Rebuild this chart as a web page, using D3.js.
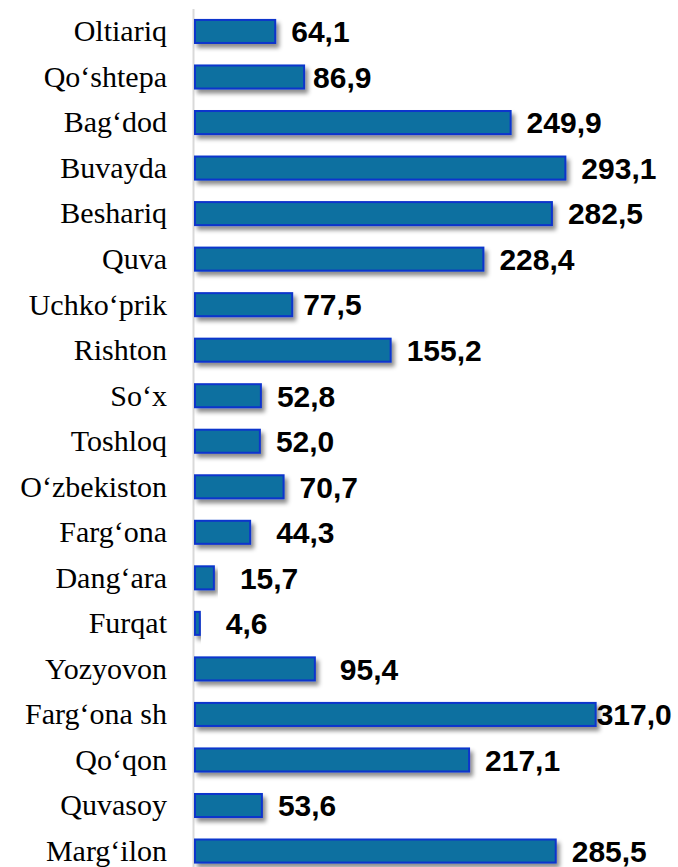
<!DOCTYPE html>
<html>
<head>
<meta charset="utf-8">
<script src="https://cdn.jsdelivr.net/npm/d3@7"></script>
<style>
  body { margin: 0; background: #fff; }
</style>
</head>
<body>
<div id="chart"></div>
<script>
// Data (top to bottom)
const districts = ['Oltiariq', 'Qo‘shtepa', 'Bag‘dod', 'Buvayda', 'Beshariq', 'Quva', 'Uchko‘prik',
  'Rishton', 'So‘x', 'Toshloq', 'O‘zbekiston', 'Farg‘ona', 'Dang‘ara', 'Furqat', 'Yozyovon',
  'Farg‘ona sh', 'Qo‘qon', 'Quvasoy', 'Marg‘ilon'];
const values = [64.1, 86.9, 249.9, 293.1, 282.5, 228.4, 77.5, 155.2, 52.8, 52.0, 70.7, 44.3,
  15.7, 4.6, 95.4, 317.0, 217.1, 53.6, 285.5];

const width = 678;
const height = 867;

const svg = d3.select('#chart')
  .append('svg')
  .attr('width', width)
  .attr('height', height);

// drop shadow under the bars
const defs = svg.append('defs');
defs.append('filter')
  .attr('id', 'shadow')
  .attr('x', '-10%').attr('y', '-50%')
  .attr('width', '130%').attr('height', '220%')
  .append('feDropShadow')
  .attr('dx', 3).attr('dy', 4)
  .attr('stdDeviation', 2)
  .attr('flood-color', '#000')
  .attr('flood-opacity', 0.45);

const rows = districts.map((d, i) => ({ name: d, value: values[i] }));

const x = d3.scaleLinear().domain([0, 320]).range([195, 195 + 320 * 1.267]);
const y = d3.scaleBand().domain(districts).range([8.7, 873.8])
  .paddingInner(0.45).paddingOuter(0.225);

// vertical axis line
svg.append('line')
  .attr('x1', 193.5).attr('x2', 193.5)
  .attr('y1', 9).attr('y2', height)
  .attr('stroke', '#d9d9d9')
  .attr('stroke-width', 2);

// bars
svg.selectAll('.bar')
  .data(rows)
  .enter()
  .append('rect')
  .attr('class', 'bar')
  .attr('x', x(0))
  .attr('y', d => y(d.name) + 1)
  .attr('width', d => x(d.value) - x(0) - 1)
  .attr('height', y.bandwidth() - 2)
  .attr('fill', '#0b6fa0')
  .attr('stroke', '#0a35cc')
  .attr('stroke-width', 2)
  .attr('filter', 'url(#shadow)');

// category labels
svg.selectAll('.cat')
  .data(rows)
  .enter()
  .append('text')
  .attr('class', 'cat')
  .attr('x', 167)
  .attr('y', d => y(d.name) + y.bandwidth() / 2)
  .attr('dy', '0.33em')
  .attr('text-anchor', 'end')
  .attr('font-family', 'Liberation Serif, DejaVu Serif, serif')
  .attr('font-size', 30)
  .attr('fill', '#000')
  .text(d => d.name);

// value labels (a few were moved by hand in the original)
const labelNudge = { 'Qo‘shtepa': -7, 'Uchko‘prik': -5, 'Farg‘ona': 10, 'Dang‘ara': 10,
  'Furqat': 10, 'Yozyovon': 9, 'Farg‘ona sh': -15 };

svg.selectAll('.val')
  .data(rows)
  .enter()
  .append('text')
  .attr('class', 'val')
  .attr('x', d => x(d.value) + 15 + (labelNudge[d.name] || 0))
  .attr('y', d => y(d.name) + y.bandwidth() / 2)
  .attr('dy', '0.36em')
  .attr('font-family', 'Liberation Sans, Arial, sans-serif')
  .attr('font-weight', 'bold')
  .attr('font-size', 30)
  .attr('fill', '#000')
  .text(d => d3.format('.1f')(d.value).replace('.', ','));
</script>
</body>
</html>
